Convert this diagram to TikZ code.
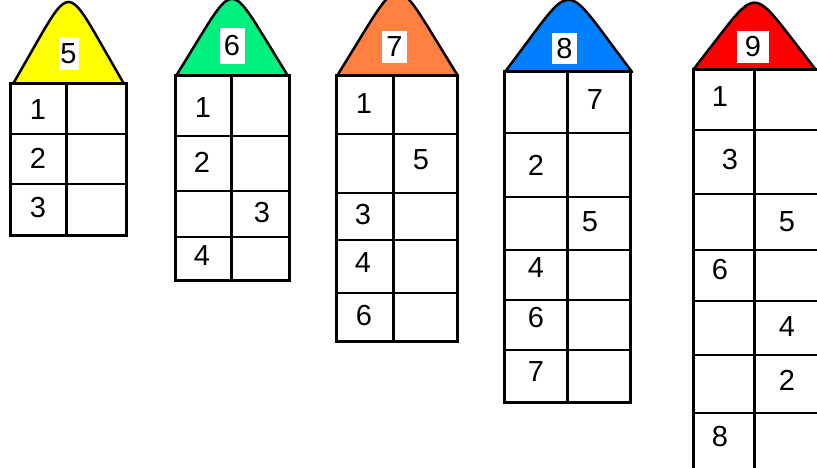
\documentclass[tikz,border=0pt]{standalone}
\usepackage{fontspec}
\setmainfont{Liberation Sans}
\usepackage{xcolor}

\definecolor{roofyellow}{RGB}{255,255,0}
\definecolor{roofgreen}{RGB}{0,240,128}
\definecolor{rooforange}{RGB}{255,128,64}
\definecolor{roofblue}{RGB}{0,128,255}
\definecolor{roofred}{RGB}{255,0,0}

% roof: left, right, base, apex, colour
\newcommand{\houseroof}[5]{%
  \pgfmathsetmacro{\rK}{0.62}
  \pgfmathsetmacro{\rM}{(#1+#2)/2}
  \pgfmathsetmacro{\rH}{(#3-#4)/(1-\rK/2)}
  \pgfmathsetmacro{\rV}{#3-\rH}
  \pgfmathsetmacro{\rA}{\rK*(#2-#1)/2}
  \pgfmathsetmacro{\rY}{#3-(1-\rK)*\rH}
  \draw[roofline, fill=#5] (#1,#3) -- (\rM-\rA,\rY)
    .. controls (\rM,\rV) .. (\rM+\rA,\rY) -- (#2,#3) -- cycle;
}
% body: left, mid, right, top, bottom, row lines
\newcommand{\housebody}[6]{%
  \fill[white] (#1,#4) rectangle (#3,#5);
  \draw[rowline] \foreach \r in {#6} {(#1,\r) -- (#3,\r)};
  \draw[wall] (#2,#4) -- (#2,#5);
  \draw[wall] (#1,#4) rectangle (#3,#5);
}

\begin{document}
\begin{tikzpicture}[x=1pt, y=-1pt,
    wall/.style={line width=3pt},
    rowline/.style={line width=1.4pt},
    roofline/.style={line width=2.5pt, line join=round},
    num/.style={inner sep=0pt, font=\fontsize{29}{29}\selectfont},
    tag/.style={num, fill=white, minimum height=33pt}
  ]
  \clip (0,0) rectangle (817,468);
  \fill[white] (0,0) rectangle (817,468);

  % House 5
  \houseroof{13}{124}{84}{17}{roofyellow}
  \housebody{10}{66}{126}{84}{235}{134,184}
  \node[tag, minimum width=20pt] (t5) at (68.5,54) {5};
  \foreach \x/\y/\n [count=\i] in {38/110/1, 38/158/2, 38/208/3}
    \node[num] (h5-\i) at (\x,\y) {\n};

  % House 6
  \houseroof{176}{288}{76}{13}{roofgreen}
  \housebody{175}{231}{289}{76}{280}{136,191,237}
  \node[tag, minimum width=25pt, minimum height=36pt] (t6) at (232,46) {6};
  \foreach \x/\y/\n [count=\i] in {203/108/1, 202/162/2, 262/213/3, 202/256/4}
    \node[num] (h6-\i) at (\x,\y) {\n};

  % House 7
  \houseroof{337}{458}{76}{8}{rooforange}
  \housebody{336}{393}{457}{76}{341}{134,193,240,293}
  \node[tag, minimum width=25pt, minimum height=32pt] (t7) at (394.5,47) {7};
  \foreach \x/\y/\n [count=\i] in {364/104/1, 421/160/5, 363/215/3, 363/263/4, 364/316/6}
    \node[num] (h7-\i) at (\x,\y) {\n};

  % House 8
  \houseroof{505}{632}{72}{13}{roofblue}
  \housebody{504}{567}{630}{72}{402}{133,197,250,300,350}
  \node[tag, minimum width=25pt, minimum height=31pt] (t8) at (564.5,48.5) {8};
  \foreach \x/\y/\n [count=\i] in {595/100/7, 536/165/2, 590/222/5, 536/268/4, 536/318/6, 536/372/7}
    \node[num] (h8-\i) at (\x,\y) {\n};

  % House 9
  \houseroof{693}{816}{70}{15}{roofred}
  \housebody{693}{754}{822}{70}{480}{130,194,250,301,355,413}
  \node[tag, minimum width=32pt, minimum height=32pt] (t9) at (753,47) {9\hspace{14pt}};
  \foreach \x/\y/\n [count=\i] in {720/97/1, 730/160/3, 787/222/5, 720/270/6, 787/327/4, 787/380/2, 720/437/8}
    \node[num] (h9-\i) at (\x,\y) {\n};
\end{tikzpicture}
\end{document}
